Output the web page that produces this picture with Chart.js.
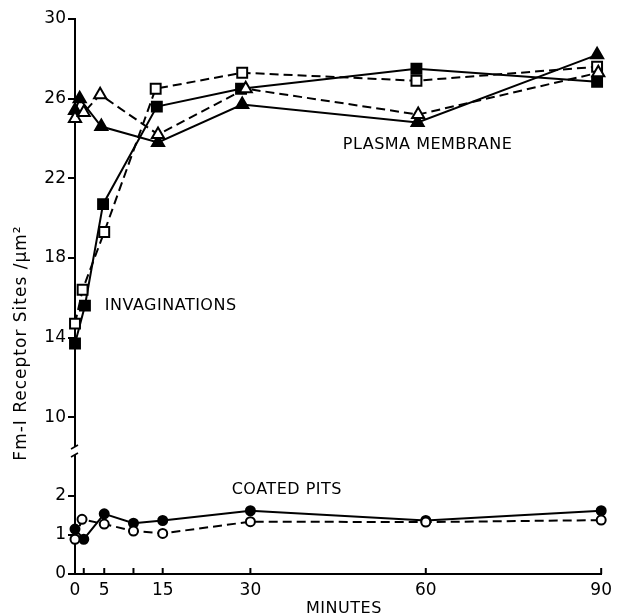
<!DOCTYPE html>
<html>
<head>
<meta charset="utf-8">
<script src="https://cdn.jsdelivr.net/npm/chart.js@4/dist/chart.umd.min.js"></script>
<style>
  html, body { margin: 0; padding: 0; background: #fff; }
  #wrap { width: 618px; height: 616px; }
</style>
</head>
<body>
<div id="wrap"><canvas id="chart"></canvas></div>
<script>
// minutes / receptor sites per um2
const triFilledT = [0, 0.8, 4.5, 14.2, 28.6, 58.6, 89.3];
const triFilledV = [25.4, 26.0, 24.6, 23.8, 25.7, 24.8, 28.2];
const triOpenT = [0, 1.5, 4.3, 14.2, 29.2, 58.7, 89.5];
const triOpenV = [25.0, 25.3, 26.2, 24.2, 26.5, 25.2, 27.3];

const sqFilledT = [0, 1.7, 4.8, 14, 28.4, 58.4, 89.3];
const sqFilledV = [13.7, 15.6, 20.7, 25.6, 26.5, 27.5, 26.85];
const sqOpenT = [0, 1.3, 5, 13.8, 28.6, 58.4, 89.3];
const sqOpenV = [14.7, 16.4, 19.3, 26.5, 27.3, 26.9, 27.6];

const circFilledT = [0, 1.5, 5, 10, 15, 30, 60, 90];
const circFilledV = [1.15, 0.89, 1.54, 1.30, 1.37, 1.62, 1.37, 1.62];
const circOpenT = [0, 1.2, 5, 10, 15, 30, 60, 90];
const circOpenV = [0.89, 1.40, 1.28, 1.10, 1.04, 1.34, 1.33, 1.38];

const xTicks = [0, 1.5, 5, 10, 15, 30, 60, 90];
const xLabelled = [0, 5, 15, 30, 60, 90];
const yTopTicks = [10, 14, 18, 22, 26, 30];
const yLowTicks = [0, 1, 2];

const labels = [
  { text: 'PLASMA MEMBRANE', x: 45.8, y: 23.7, axis: 'yTop' },
  { text: 'INVAGINATIONS', x: 5.1, y: 15.6, axis: 'yTop' },
  { text: 'COATED PITS', x: 26.8, y: 2.15, axis: 'yLow' }
];

const FONT = '"DejaVu Sans", sans-serif';
Chart.defaults.font.family = FONT;
Chart.defaults.color = '#000';

function pts(t, v) {
  return t.map((x, i) => ({ x: x, y: v[i] }));
}

function series(t, v, style, filled, dashed, axis, r) {
  return {
    data: pts(t, v),
    yAxisID: axis,
    borderColor: '#000',
    borderWidth: 2,
    borderDash: dashed ? [9, 5] : [],
    pointStyle: style,
    pointRadius: r,
    pointHoverRadius: r,
    pointBackgroundColor: filled ? '#000' : '#fff',
    pointBorderColor: '#000',
    pointBorderWidth: 2,
    tension: 0,
    clip: false
  };
}

const extras = {
  id: 'extras',
  afterDraw(chart) {
    const ctx = chart.ctx;
    const x = chart.scales.x;
    const area = chart.chartArea;
    ctx.save();

    // inner tick marks on the time axis
    ctx.strokeStyle = '#000';
    ctx.lineWidth = 2;
    xTicks.forEach(v => {
      const px = x.getPixelForValue(v);
      ctx.beginPath();
      ctx.moveTo(px, area.bottom);
      ctx.lineTo(px, area.bottom - 6);
      ctx.stroke();
    });

    // axis break
    const by = chart.scales.yTop.bottom;
    const ax = area.left;
    ctx.fillStyle = '#fff';
    ctx.fillRect(ax - 3, by - 4, 6, 8);
    ctx.lineWidth = 1.6;
    [-4, 4].forEach(dy => {
      ctx.beginPath();
      ctx.moveTo(ax - 4, by + dy + 2);
      ctx.lineTo(ax + 3, by + dy - 2);
      ctx.stroke();
    });

    // text labels
    ctx.fillStyle = '#000';
    ctx.font = '16px ' + FONT;
    ctx.letterSpacing = '0.5px';
    ctx.textBaseline = 'middle';
    ctx.textAlign = 'left';
    labels.forEach(l => {
      ctx.fillText(l.text, x.getPixelForValue(l.x), chart.scales[l.axis].getPixelForValue(l.y));
    });

    ctx.textAlign = 'center';
    ctx.fillText('MINUTES', x.getPixelForValue(46), area.bottom + 35);

    ctx.translate(22, 343);
    ctx.rotate(-Math.PI / 2);
    ctx.font = '17px ' + FONT;
    ctx.letterSpacing = '1px';
    ctx.fillText('Fm-I Receptor Sites /\u00b5m\u00b2', 0, 0);
    ctx.restore();
  }
};

const yCommon = {
  type: 'linear',
  position: 'left',
  stack: 'y',
  grid: { drawOnChartArea: false, drawTicks: true, tickLength: 7, color: '#000', lineWidth: 2 },
  border: { display: true, color: '#000', width: 2 },
  ticks: { font: { size: 17 }, padding: 2, color: '#000' },
  afterFit: s => { s.width = 45; }
};

new Chart(document.getElementById('chart'), {
  type: 'line',
  data: {
    datasets: [
      series(triOpenT, triOpenV, 'triangle', false, true, 'yTop', 7),
      series(triFilledT, triFilledV, 'triangle', true, false, 'yTop', 7),
      series(sqOpenT, sqOpenV, 'rect', false, true, 'yTop', 7),
      series(sqFilledT, sqFilledV, 'rect', true, false, 'yTop', 7),
      series(circOpenT, circOpenV, 'circle', false, true, 'yLow', 4.5),
      series(circFilledT, circFilledV, 'circle', true, false, 'yLow', 4.5)
    ]
  },
  options: {
    responsive: true,
    maintainAspectRatio: false,
    animation: false,
    layout: { padding: { left: 30, right: 16, top: 19, bottom: 0 } },
    plugins: { legend: { display: false }, tooltip: { enabled: false } },
    scales: {
      x: {
        type: 'linear',
        min: 0,
        max: 90,
        grid: { display: false, drawTicks: false },
        border: { display: true, color: '#000', width: 2 },
        ticks: {
          font: { size: 17 },
          padding: 6,
          maxRotation: 0,
          autoSkip: false,
          callback: v => xLabelled.includes(v) ? v : ''
        },
        afterBuildTicks: s => { s.ticks = xTicks.map(v => ({ value: v })); },
        afterFit: s => { s.height = 42; }
      },
      // stacked left axes are laid out in reverse order: the low part goes first
      yLow: Object.assign({}, yCommon, {
        min: 0,
        max: 3.15,
        stackWeight: 123,
        afterBuildTicks: s => { s.ticks = yLowTicks.map(v => ({ value: v })); }
      }),
      yTop: Object.assign({}, yCommon, {
        min: 8.3,
        max: 30,
        stackWeight: 432,
        afterBuildTicks: s => { s.ticks = yTopTicks.map(v => ({ value: v })); }
      })
    }
  },
  plugins: [extras]
});
</script>
</body>
</html>
